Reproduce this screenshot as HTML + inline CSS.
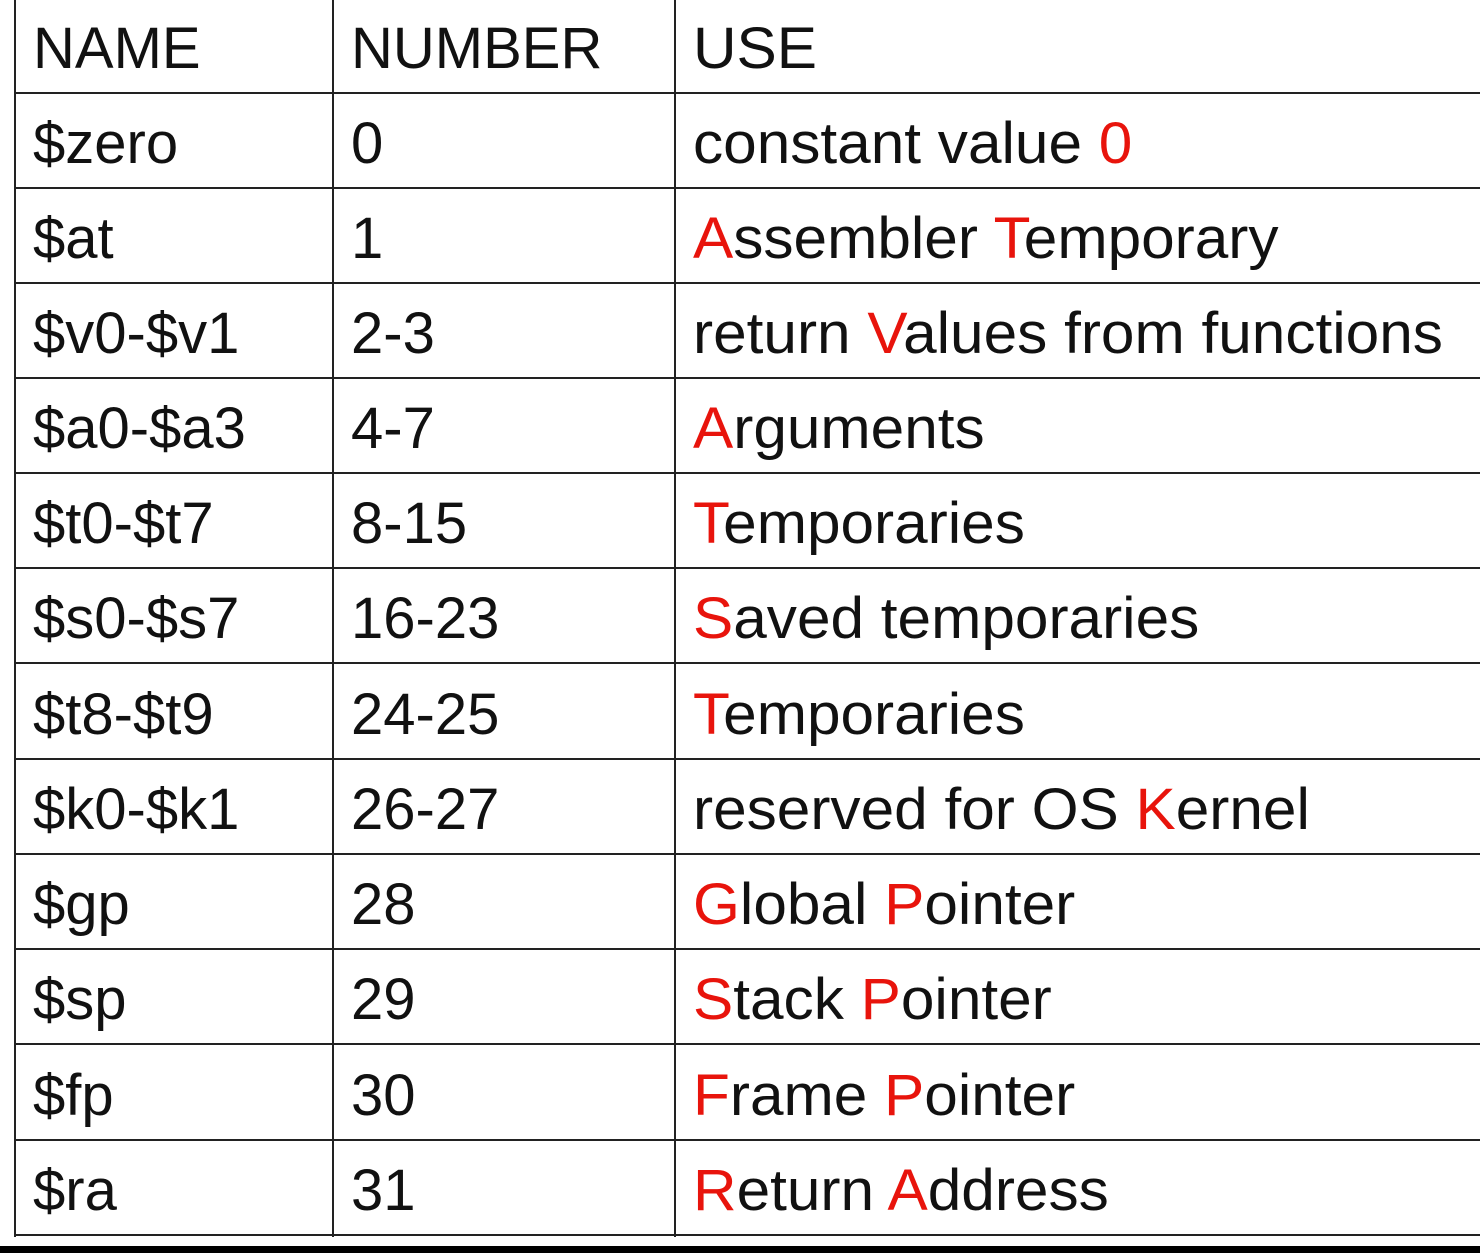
<!DOCTYPE html>
<html><head><meta charset="utf-8"><style>
body{margin:0;width:1480px;height:1253px;background:#fff;position:relative;overflow:hidden;font-family:"Liberation Sans",sans-serif}
.h{position:absolute;left:15px;right:0;height:2px;background:#222}
.v{position:absolute;top:0;width:2px;height:1237px;background:#222}
.t{position:absolute;font-size:58px;line-height:58px;color:#111;white-space:nowrap;transform:scaleX(1.0);transform-origin:left top}
.u{transform:scaleX(1.04)}
.r{color:#e8140c}
</style></head><body>
<div class="v" style="left:14px"></div>
<div class="v" style="left:332px"></div>
<div class="v" style="left:674px"></div>
<div class="h" style="top:92px"></div>
<div class="h" style="top:187px"></div>
<div class="h" style="top:282px"></div>
<div class="h" style="top:377px"></div>
<div class="h" style="top:472px"></div>
<div class="h" style="top:567px"></div>
<div class="h" style="top:662px"></div>
<div class="h" style="top:758px"></div>
<div class="h" style="top:853px"></div>
<div class="h" style="top:948px"></div>
<div class="h" style="top:1043px"></div>
<div class="h" style="top:1139px"></div>
<div class="h" style="top:1234px"></div>
<div style="position:absolute;left:0;right:0;top:1246px;height:7px;background:#000"></div>

<div class="t" style="left:33px;top:20px">NAME</div>
<div class="t" style="left:351px;top:20px">NUMBER</div>
<div class="t u" style="left:693px;top:20px">USE</div>

<div class="t" style="left:33px;top:115px">$zero</div><div class="t" style="left:351px;top:115px">0</div><div class="t u" style="left:693px;top:115px">constant value <span class="r">0</span></div>
<div class="t" style="left:33px;top:210px">$at</div><div class="t" style="left:351px;top:210px">1</div><div class="t u" style="left:693px;top:210px"><span class="r">A</span>ssembler <span class="r">T</span>emporary</div>
<div class="t" style="left:33px;top:305px">$v0-$v1</div><div class="t" style="left:351px;top:305px">2-3</div><div class="t u" style="left:693px;top:305px">return <span class="r">V</span>alues from functions</div>
<div class="t" style="left:33px;top:400px">$a0-$a3</div><div class="t" style="left:351px;top:400px">4-7</div><div class="t u" style="left:693px;top:400px"><span class="r">A</span>rguments</div>
<div class="t" style="left:33px;top:495px">$t0-$t7</div><div class="t" style="left:351px;top:495px">8-15</div><div class="t u" style="left:693px;top:495px"><span class="r">T</span>emporaries</div>
<div class="t" style="left:33px;top:590px">$s0-$s7</div><div class="t" style="left:351px;top:590px">16-23</div><div class="t u" style="left:693px;top:590px"><span class="r">S</span>aved temporaries</div>
<div class="t" style="left:33px;top:686px">$t8-$t9</div><div class="t" style="left:351px;top:686px">24-25</div><div class="t u" style="left:693px;top:686px"><span class="r">T</span>emporaries</div>
<div class="t" style="left:33px;top:781px">$k0-$k1</div><div class="t" style="left:351px;top:781px">26-27</div><div class="t u" style="left:693px;top:781px">reserved for OS <span class="r">K</span>ernel</div>
<div class="t" style="left:33px;top:876px">$gp</div><div class="t" style="left:351px;top:876px">28</div><div class="t u" style="left:693px;top:876px"><span class="r">G</span>lobal <span class="r">P</span>ointer</div>
<div class="t" style="left:33px;top:971px">$sp</div><div class="t" style="left:351px;top:971px">29</div><div class="t u" style="left:693px;top:971px"><span class="r">S</span>tack <span class="r">P</span>ointer</div>
<div class="t" style="left:33px;top:1067px">$fp</div><div class="t" style="left:351px;top:1067px">30</div><div class="t u" style="left:693px;top:1067px"><span class="r">F</span>rame <span class="r">P</span>ointer</div>
<div class="t" style="left:33px;top:1162px">$ra</div><div class="t" style="left:351px;top:1162px">31</div><div class="t u" style="left:693px;top:1162px"><span class="r">R</span>eturn <span class="r">A</span>ddress</div>
</body></html>
